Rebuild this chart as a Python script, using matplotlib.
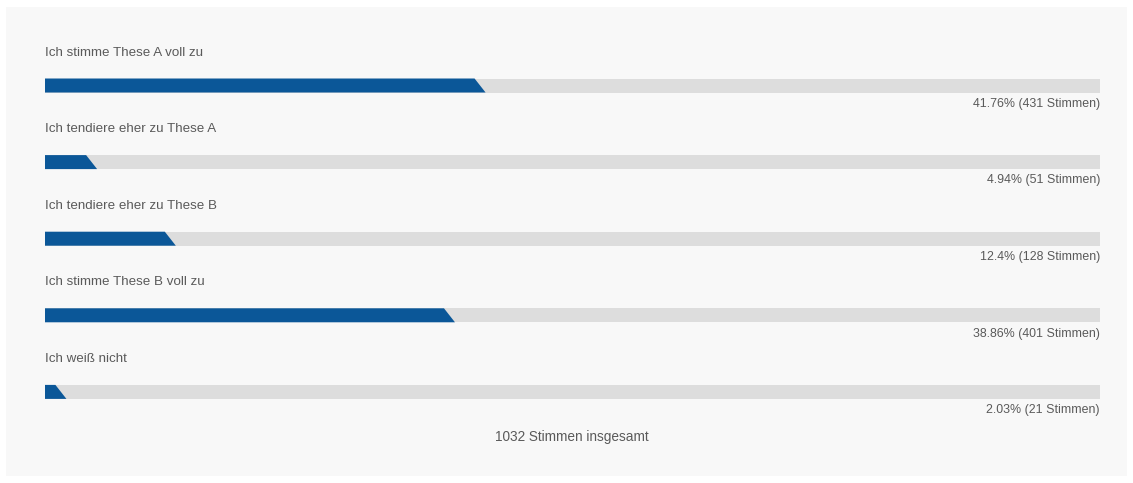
import matplotlib
matplotlib.use("Agg")
import matplotlib.pyplot as plt
from matplotlib.patches import Polygon, Rectangle

# Poll results
answers = [
    "Ich stimme These A voll zu",
    "Ich tendiere eher zu These A",
    "Ich tendiere eher zu These B",
    "Ich stimme These B voll zu",
    "Ich weiß nicht",
]
percents = [41.76, 4.94, 12.4, 38.86, 2.03]
votes = [431, 51, 128, 401, 21]
total_votes = 1032

W, H, DPI = 1133, 483, 100
BLUE = "#0b5798"
TRACK = "#dddddd"
TEXT = "#5a5a5a"

plt.rcParams["font.family"] = ["Liberation Sans", "DejaVu Sans"]

fig = plt.figure(figsize=(W / DPI, H / DPI), dpi=DPI, facecolor="white")

# light panel behind the poll
bg = fig.add_axes([0, 0, 1, 1])
bg.set_xlim(0, W)
bg.set_ylim(H, 0)
bg.axis("off")
bg.add_patch(Rectangle((6, 7), W - 12, H - 14, facecolor="#f8f8f8", edgecolor="none"))

# bar area: x spans the full 0-100 % track
left_px, right_px = 45, 1100
row0_px, row_step_px = 85.5, 76.6
ax = fig.add_axes([left_px / W, 0, (right_px - left_px) / W, 1])
ax.set_xlim(0, 100)
ax.set_ylim((H - row0_px) / row_step_px, -row0_px / row_step_px)
ax.axis("off")
ax.patch.set_alpha(0)

bar_h = 14 / row_step_px
slant = 11 / (right_px - left_px) * 100

for i, (label, pct, n) in enumerate(zip(answers, percents, votes)):
    top, bottom = i - bar_h / 2, i + bar_h / 2
    ax.add_patch(Rectangle((0, top), 100, bar_h, facecolor=TRACK, edgecolor="none"))
    ax.add_patch(Polygon([(0, top), (max(pct - slant, 0), top), (pct, bottom), (0, bottom)],
                         closed=True, facecolor=BLUE, edgecolor="none"))
    ax.text(0, i - 0.43, label, ha="left", va="center", fontsize=9.6, color=TEXT)
    pct_txt = f"{pct:.2f}".rstrip("0").rstrip(".")
    ax.text(100, i + 0.24, f"{pct_txt}% ({n} Stimmen)", ha="right", va="center",
            fontsize=8.9, color=TEXT)

ax.text((572 - left_px) / (right_px - left_px) * 100, (437 - row0_px) / row_step_px,
        f"{total_votes} Stimmen insgesamt", ha="center", va="center", fontsize=9.8, color=TEXT)

fig.savefig("out.png", dpi=DPI, facecolor="white")
